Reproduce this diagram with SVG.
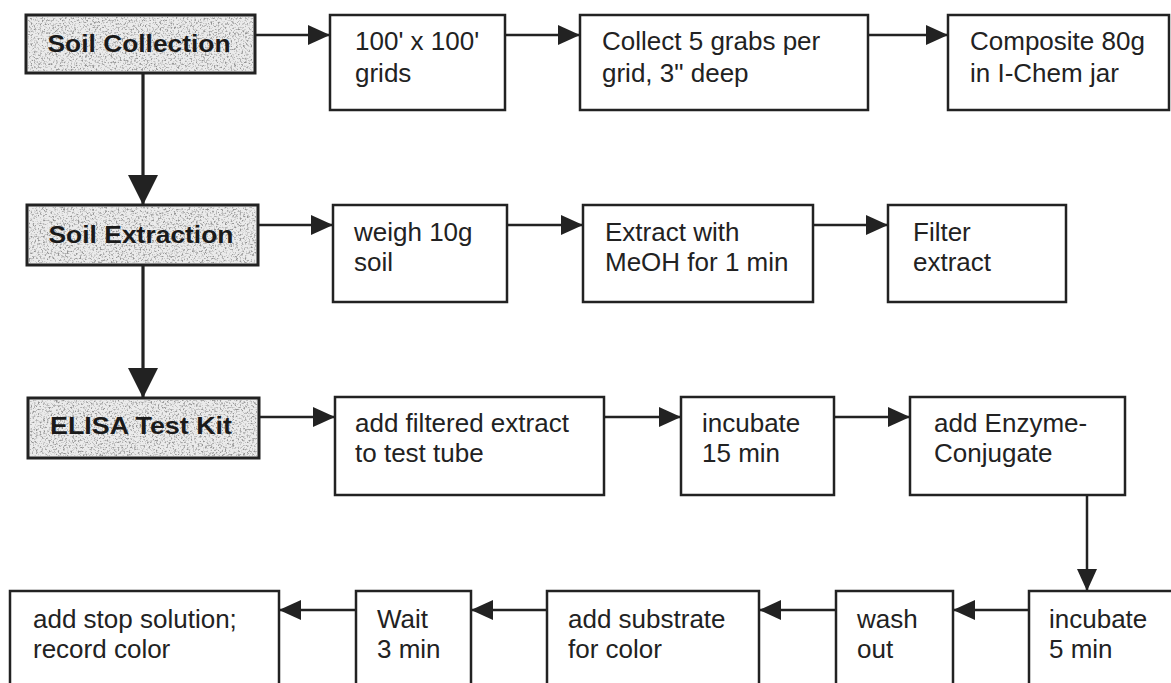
<svg xmlns="http://www.w3.org/2000/svg" width="1171" height="683" viewBox="0 0 1171 683">
<style>
  .box { fill: #ffffff; stroke: #222; stroke-width: 2.5; }
  .gbox { fill: #ebebeb; stroke: #222; stroke-width: 3; }
  .grain { fill: #000; }
  .t { font-family: "Liberation Sans", Arial, sans-serif; font-size: 26px; fill: #222; }
  .b { font-family: "Liberation Sans", Arial, sans-serif; font-size: 24px; font-weight: bold; fill: #1a1a1a; text-anchor: middle; }
  .c { fill: none; stroke: #222; stroke-width: 2.5; }
  .cb { fill: none; stroke: #222; stroke-width: 3.2; }
</style>
<defs>
  <filter id="speck" x="0" y="0" width="100%" height="100%">
    <feTurbulence type="fractalNoise" baseFrequency="0.55" numOctaves="2" seed="7" result="n"/>
    <feColorMatrix in="n" type="matrix" values="0 0 0 0 0.3  0 0 0 0 0.3  0 0 0 0 0.3  4 0 0 0 -2.0" result="s"/>
    <feComposite in="s" in2="SourceGraphic" operator="in"/>
  </filter>
  <marker id="ah" markerUnits="userSpaceOnUse" markerWidth="22" markerHeight="20" refX="22" refY="10" orient="auto">
    <path d="M0,0 L22,10 L0,20 Z" fill="#222"/>
  </marker>
  <marker id="ahb" markerUnits="userSpaceOnUse" markerWidth="30" markerHeight="30" refX="30" refY="15" orient="auto">
    <path d="M0,0 L30,15 L0,30 Z" fill="#222"/>
  </marker>
</defs>
<rect width="1171" height="683" fill="#ffffff"/>

<g id="connectors">
  <line class="cb" x1="143" y1="73" x2="143" y2="205" marker-end="url(#ahb)"/>
  <line class="cb" x1="143" y1="265" x2="143" y2="398" marker-end="url(#ahb)"/>
  <line class="c" x1="255" y1="35" x2="330" y2="35" marker-end="url(#ah)"/>
  <line class="c" x1="505" y1="35" x2="580" y2="35" marker-end="url(#ah)"/>
  <line class="c" x1="868" y1="35" x2="948" y2="35" marker-end="url(#ah)"/>
  <line class="c" x1="258" y1="225" x2="333" y2="225" marker-end="url(#ah)"/>
  <line class="c" x1="507" y1="225" x2="583" y2="225" marker-end="url(#ah)"/>
  <line class="c" x1="813" y1="225" x2="888" y2="225" marker-end="url(#ah)"/>
  <line class="c" x1="259" y1="417" x2="335" y2="417" marker-end="url(#ah)"/>
  <line class="c" x1="604" y1="417" x2="681" y2="417" marker-end="url(#ah)"/>
  <line class="c" x1="834" y1="417" x2="910" y2="417" marker-end="url(#ah)"/>
  <line class="c" x1="1087" y1="495" x2="1087" y2="591" marker-end="url(#ah)"/>
  <line class="c" x1="1029" y1="610" x2="953" y2="610" marker-end="url(#ah)"/>
  <line class="c" x1="836" y1="610" x2="759" y2="610" marker-end="url(#ah)"/>
  <line class="c" x1="547" y1="610" x2="471" y2="610" marker-end="url(#ah)"/>
  <line class="c" x1="356" y1="610" x2="279" y2="610" marker-end="url(#ah)"/>
</g>

<g id="soil-collection">
  <rect class="gbox" x="26" y="15" width="229" height="58"/>
  <rect class="grain" x="28" y="17" width="225" height="54" filter="url(#speck)"/>
  <text class="b" x="139" y="52" textLength="183" lengthAdjust="spacingAndGlyphs">Soil Collection</text>
</g>
<g id="grids">
  <rect class="box" x="330" y="15" width="175" height="95"/>
  <text class="t" x="355" y="50">100' x 100'</text>
  <text class="t" x="355" y="82">grids</text>
</g>
<g id="collect-grabs">
  <rect class="box" x="580" y="15" width="288" height="95"/>
  <text class="t" x="602" y="50">Collect 5 grabs per</text>
  <text class="t" x="602" y="82">grid, 3" deep</text>
</g>
<g id="composite">
  <rect class="box" x="948" y="15" width="221" height="95"/>
  <text class="t" x="970" y="50">Composite 80g</text>
  <text class="t" x="970" y="82">in I-Chem jar</text>
</g>

<g id="soil-extraction">
  <rect class="gbox" x="27" y="205" width="231" height="60"/>
  <rect class="grain" x="29" y="207" width="227" height="56" filter="url(#speck)"/>
  <text class="b" x="141" y="243" textLength="185" lengthAdjust="spacingAndGlyphs">Soil Extraction</text>
</g>
<g id="weigh">
  <rect class="box" x="333" y="205" width="174" height="97"/>
  <text class="t" x="354" y="241">weigh 10g</text>
  <text class="t" x="354" y="271">soil</text>
</g>
<g id="extract-meoh">
  <rect class="box" x="583" y="205" width="230" height="97"/>
  <text class="t" x="605" y="241">Extract with</text>
  <text class="t" x="605" y="271">MeOH for 1 min</text>
</g>
<g id="filter">
  <rect class="box" x="888" y="205" width="178" height="97"/>
  <text class="t" x="913" y="241">Filter</text>
  <text class="t" x="913" y="271">extract</text>
</g>

<g id="elisa">
  <rect class="gbox" x="28" y="398" width="231" height="60"/>
  <rect class="grain" x="30" y="400" width="227" height="56" filter="url(#speck)"/>
  <text class="b" x="141" y="434" textLength="182" lengthAdjust="spacingAndGlyphs">ELISA Test Kit</text>
</g>
<g id="add-filtered">
  <rect class="box" x="335" y="397" width="269" height="98"/>
  <text class="t" x="355" y="432">add filtered extract</text>
  <text class="t" x="355" y="462">to test tube</text>
</g>
<g id="incubate-15">
  <rect class="box" x="681" y="397" width="153" height="98"/>
  <text class="t" x="702" y="432">incubate</text>
  <text class="t" x="702" y="462">15 min</text>
</g>
<g id="enzyme">
  <rect class="box" x="910" y="397" width="215" height="98"/>
  <text class="t" x="934" y="432">add Enzyme-</text>
  <text class="t" x="934" y="462">Conjugate</text>
</g>

<g id="incubate-5">
  <rect class="box" x="1029" y="591" width="200" height="150"/>
  <text class="t" x="1049" y="628">incubate</text>
  <text class="t" x="1049" y="658">5 min</text>
</g>
<g id="wash-out">
  <rect class="box" x="836" y="591" width="117" height="150"/>
  <text class="t" x="857" y="628">wash</text>
  <text class="t" x="857" y="658">out</text>
</g>
<g id="add-substrate">
  <rect class="box" x="547" y="591" width="212" height="150"/>
  <text class="t" x="568" y="628">add substrate</text>
  <text class="t" x="568" y="658">for color</text>
</g>
<g id="wait">
  <rect class="box" x="356" y="591" width="115" height="150"/>
  <text class="t" x="377" y="628">Wait</text>
  <text class="t" x="377" y="658">3 min</text>
</g>
<g id="stop-solution">
  <rect class="box" x="10" y="591" width="269" height="150"/>
  <text class="t" x="33" y="628">add stop solution;</text>
  <text class="t" x="33" y="658">record color</text>
</g>
</svg>
